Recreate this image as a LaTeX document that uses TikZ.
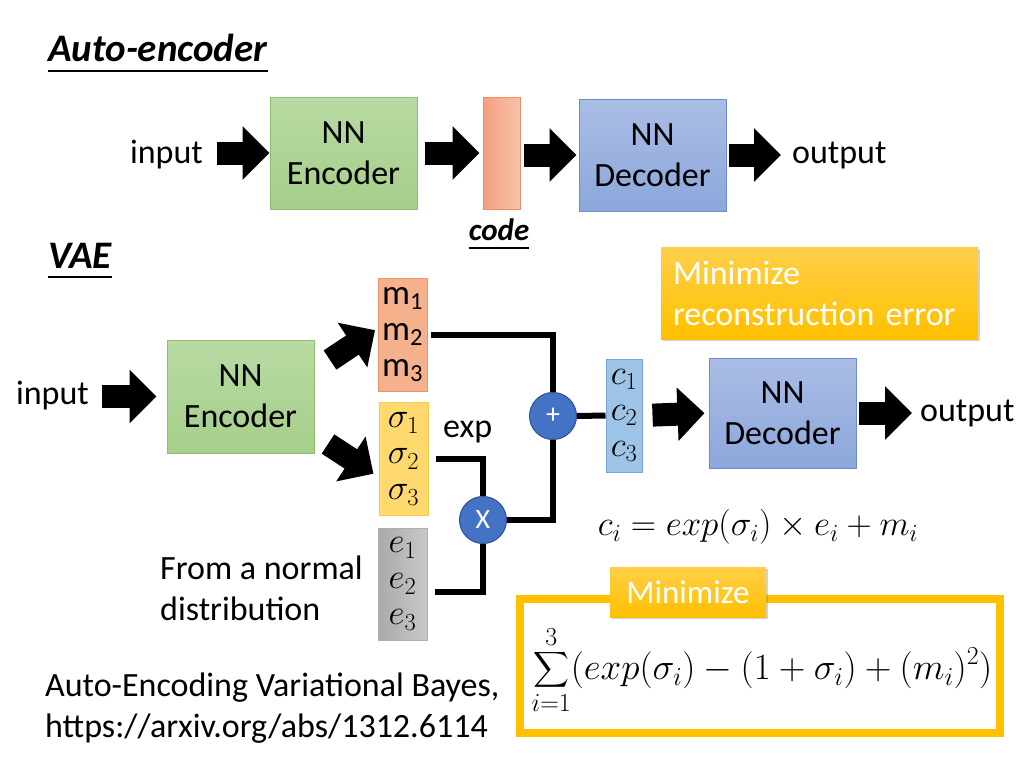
\RequirePackage{fix-cm}
\documentclass[tikz,border=0pt]{standalone}
\usepackage{exscale}
\usepackage{fontspec}
\setmainfont{Carlito}
\usetikzlibrary{arrows.meta,shadows}

\definecolor{encgreen}{RGB}{166,207,138}
\definecolor{encgreentop}{RGB}{184,218,163}
\definecolor{encedge}{RGB}{140,190,110}
\definecolor{decblue}{RGB}{140,167,219}
\definecolor{decbluetop}{RGB}{170,189,229}
\definecolor{decedge}{RGB}{110,140,200}
\definecolor{codeorange}{RGB}{243,160,128}
\definecolor{codeorangelt}{RGB}{248,194,170}
\definecolor{codeedge}{RGB}{240,140,100}
\definecolor{mfill}{RGB}{245,176,140}
\definecolor{medge}{RGB}{240,145,105}
\definecolor{sfill}{RGB}{255,217,110}
\definecolor{sedge}{RGB}{245,200,80}
\definecolor{efill}{RGB}{200,200,200}
\definecolor{eedge}{RGB}{175,175,175}
\definecolor{cfill}{RGB}{157,195,230}
\definecolor{cedge}{RGB}{120,165,215}
\definecolor{opblue}{RGB}{68,114,196}
\definecolor{opedge}{RGB}{47,82,143}
\definecolor{minyellow}{RGB}{255,192,0}
\definecolor{minyellowtop}{RGB}{255,207,72}

\tikzset{
  txt/.style={font=\fontsize{34}{41}\selectfont, inner sep=0pt},
  nnbox/.style={txt, minimum width=147, minimum height=112, align=center, line width=1pt},
  encbox/.style={nnbox, draw=encedge, top color=encgreentop, bottom color=encgreen},
  decbox/.style={nnbox, draw=decedge, top color=decbluetop, bottom color=decblue},
  stack/.style={font=\fontsize{35}{36}\selectfont, inner sep=0pt, minimum width=49, minimum height=113, align=center, line width=1pt},
  title/.style={font=\fontsize{39}{44}\selectfont\bfseries\itshape, inner sep=0pt},
  op/.style={circle, draw=opedge, fill=opblue, line width=1pt, minimum size=47, inner sep=0pt, text=white, font=\fontsize{28}{30}\selectfont},
  wire/.style={line width=6pt},
  fatarrow/.style={line width=23pt, -{Triangle[length=27pt,width=52pt]}},
  minbox/.style={txt, top color=minyellowtop, bottom color=minyellow, text=white, drop shadow={shadow xshift=2pt, shadow yshift=-2pt, opacity=0.35}},
}

\begin{document}
\begin{tikzpicture}[x=1pt,y=-1pt]
  \useasboundingbox[fill=white] (0,0) rectangle (1024,768);

  % auto-encoder
  \node[title, anchor=base west] (aetitle) at (48,62) {Auto-encoder};
  \draw[line width=2pt] ([yshift=-9pt]aetitle.base west) -- ([yshift=-9pt]aetitle.base east);
  \node[txt, anchor=base east] (in1) at (203,163) {input};
  \node[encbox] (enc1) at (343.5,153) {NN\\Encoder};
  \node[draw=codeedge, line width=1pt, left color=codeorange, right color=codeorangelt,
        minimum width=37, minimum height=112] (code) at (501.5,153) {};
  \node[title, font=\fontsize{31}{35}\selectfont\bfseries\itshape, anchor=base] (codelabel) at (499,240) {code};
  \draw[line width=2pt] ([yshift=-8pt]codelabel.base west) -- ([yshift=-8pt]codelabel.base east);
  \node[decbox] (dec1) at (652.5,155) {NN\\Decoder};
  \node[txt, anchor=base west] (out1) at (792,163) {output};

  \draw[fatarrow, shorten <=14pt] (in1.east |- enc1.west) -- (enc1.west);
  \draw[fatarrow, shorten <=7pt, shorten >=3pt] (enc1.east) -- (code.west);
  \draw[fatarrow, shorten <=3pt, shorten >=2pt] (code.east |- dec1.west) -- (dec1.west);
  \draw[fatarrow, shorten <=2pt, shorten >=11pt] (dec1.east) -- (dec1.east -| out1.west);

  % VAE
  \node[title, anchor=base west] (vaetitle) at (48,268) {VAE};
  \draw[line width=2pt] ([yshift=-9pt]vaetitle.base west) -- ([yshift=-9pt]vaetitle.base east);
  \node[txt, anchor=base east] (in2) at (89,404) {input};
  \node[encbox, minimum height=113] (enc2) at (240.5,396.5) {NN\\Encoder};

  \node[stack, draw=medge, fill=mfill] (mvec) at (402.5,334.5)
    {m\textsubscript{1}\\m\textsubscript{2}\\m\textsubscript{3}};
  \node[stack, draw=sedge, fill=sfill] (svec) at (403.5,459)
    {$\sigma_1$\\$\sigma_2$\\$\sigma_3$};
  \node[stack, draw=eedge, left color=efill!85!black, right color=efill, minimum height=112] (evec) at (402.5,584)
    {$e_1$\\$e_2$\\$e_3$};
  \node[txt, anchor=base west] (exp) at (443,437) {exp};
  \node[txt, anchor=west, align=left] (normal) at (160,588) {From a normal\\distribution};

  \node[op] (plus) at (553,416) {+};
  \node[op] (times) at (483,520) {X};
  \node[stack, draw=cedge, fill=cfill, minimum width=36] (cvec) at (624,415.5)
    {$c_1$\\$c_2$\\$c_3$};
  \node[decbox, minimum height=110] (dec2) at (782.5,413) {NN\\Decoder};
  \node[txt, anchor=base west] (out2) at (920,421) {output};

  \coordinate (uptail) at (330,360);
  \coordinate (downtail) at (328,444);
  \draw[fatarrow, shorten <=13pt, shorten >=10pt] (in2.east |- enc2.west) -- (enc2.west);
  \draw[fatarrow, shorten >=3pt] (uptail) -- ([yshift=6pt]mvec.west);
  \draw[fatarrow, shorten >=6pt] (downtail) -- ([yshift=-18pt]svec.west);
  \draw[fatarrow, shorten <=10pt, shorten >=4pt] (cvec.east) -- (dec2.west);
  \draw[fatarrow, shorten <=2pt, shorten >=8pt] (dec2.east) -- (dec2.east -| out2.west);

  \draw[wire] ([xshift=3pt]mvec.east) -| (plus.north);
  \draw[wire] ([xshift=7pt]svec.east) -| (times.north);
  \draw[wire] ([xshift=7pt,yshift=-8pt]evec.east) -| (times.south);
  \draw[wire] (times.east) -| (plus.south);
  \draw[wire] (plus.east) -- (cvec.west);

  % losses
  \node[minbox, minimum width=317, minimum height=92, text width=293, inner sep=12pt, align=left] (recon) at (819.5,293)
    {Minimize\\reconstruction error};
  \node[txt, font=\fontsize{35}{38}\selectfont] (ceq) at (758,527) {$c_i = exp(\sigma_i)\times e_i + m_i$};
  \node[draw=minyellow, line width=8pt, minimum width=480, minimum height=134, inner sep=0pt] (loss) at (760,666) {};
  \node[txt, font=\fontsize{37}{40}\selectfont] (lossterm) at (762,670)
    {$\displaystyle\sum_{i=1}^{3}(exp(\sigma_i)-(1+\sigma_i)+(m_i)^2)$};
  \node[minbox, minimum width=156, minimum height=50, font=\fontsize{33}{36}\selectfont] (minlabel) at (688,592) {Minimize};

  \node[txt, anchor=west, align=left] (ref) at (45,708) {Auto-Encoding Variational Bayes,\\https://arxiv.org/abs/1312.6114};
\end{tikzpicture}
\end{document}
